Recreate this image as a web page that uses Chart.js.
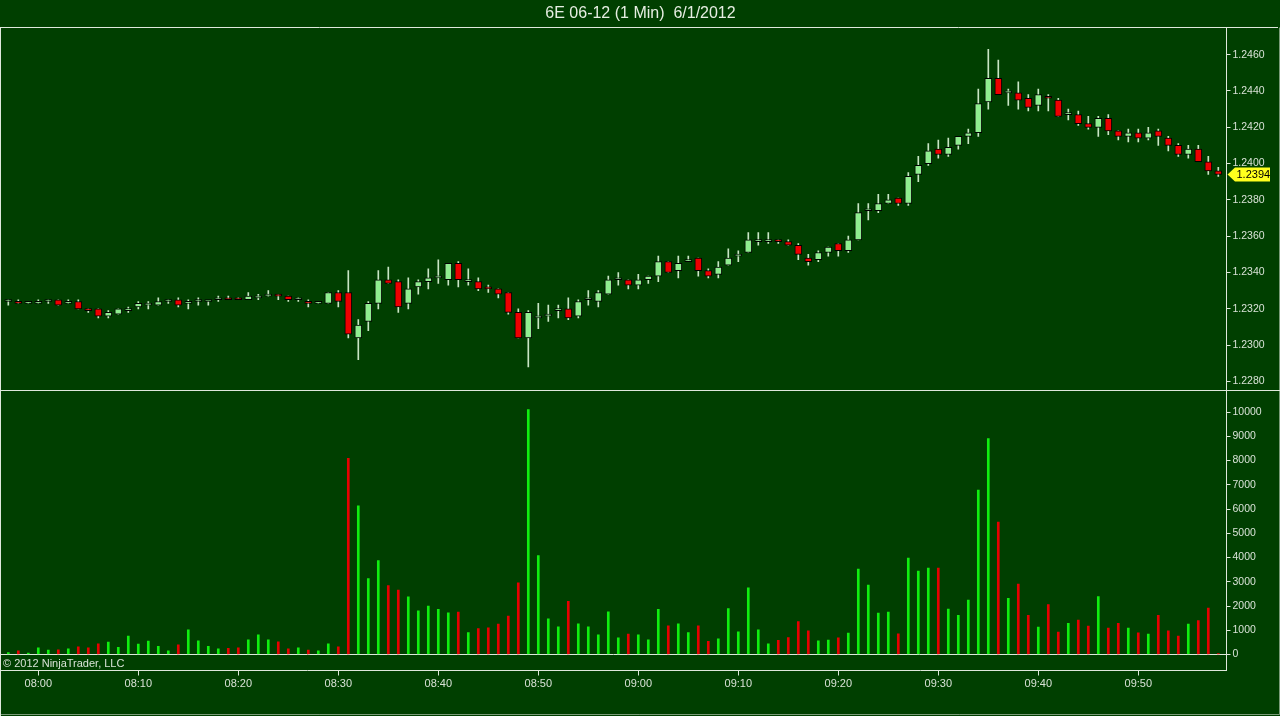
<!DOCTYPE html>
<html lang="en">
<head>
<meta charset="UTF-8">
<title>6E 06-12 (1 Min) 6/1/2012</title>
<script src="https://cdn.jsdelivr.net/npm/chart.js"></script>
<style>
  html, body { margin: 0; padding: 0; background: #003f00; overflow: hidden; }
  #wrap { position: relative; width: 1280px; height: 716px; background: #003f00; }
  #wrap canvas { position: absolute; left: 0; }
  #priceChart { top: 0; }
  #volumeChart { top: 390px; }
</style>
</head>
<body>
<div id="wrap">
  <canvas id="priceChart" width="1280" height="390"></canvas>
  <canvas id="volumeChart" width="1280" height="326"></canvas>
</div>
<script>
// one-minute bars, 07:57 to 09:58
const times = [
  '07:57','07:58','07:59','08:00','08:01','08:02','08:03','08:04','08:05','08:06',
  '08:07','08:08','08:09','08:10','08:11','08:12','08:13','08:14','08:15','08:16',
  '08:17','08:18','08:19','08:20','08:21','08:22','08:23','08:24','08:25','08:26',
  '08:27','08:28','08:29','08:30','08:31','08:32','08:33','08:34','08:35','08:36',
  '08:37','08:38','08:39','08:40','08:41','08:42','08:43','08:44','08:45','08:46',
  '08:47','08:48','08:49','08:50','08:51','08:52','08:53','08:54','08:55','08:56',
  '08:57','08:58','08:59','09:00','09:01','09:02','09:03','09:04','09:05','09:06',
  '09:07','09:08','09:09','09:10','09:11','09:12','09:13','09:14','09:15','09:16',
  '09:17','09:18','09:19','09:20','09:21','09:22','09:23','09:24','09:25','09:26',
  '09:27','09:28','09:29','09:30','09:31','09:32','09:33','09:34','09:35','09:36',
  '09:37','09:38','09:39','09:40','09:41','09:42','09:43','09:44','09:45','09:46',
  '09:47','09:48','09:49','09:50','09:51','09:52','09:53','09:54','09:55','09:56',
  '09:57','09:58'
];

const opens = [
  1.2324,1.2324,1.2323,1.2323,1.2324,1.2325,1.2323,1.2324,1.2320,1.2320,
  1.2316,1.2317,1.2319,1.2321,1.2322,1.2322,1.2324,1.2325,1.2323,1.2324,
  1.2324,1.2325,1.2326,1.2326,1.2325,1.2326,1.2327,1.2328,1.2327,1.2325,
  1.2324,1.2323,1.2323,1.2329,1.2329,1.2304,1.2313,1.2323,1.2336,1.2335,
  1.2323,1.2332,1.2335,1.2337,1.2336,1.2345,1.2335,1.2335,1.2332,1.2331,
  1.2329,1.2318,1.2304,1.2315,1.2316,1.2319,1.2320,1.2316,1.2325,1.2324,
  1.2328,1.2336,1.2336,1.2333,1.2336,1.2338,1.2346,1.2341,1.2346,1.2348,
  1.2341,1.2339,1.2344,1.2349,1.2351,1.2357,1.2357,1.2358,1.2357,1.2355,
  1.2348,1.2347,1.2351,1.2356,1.2352,1.2358,1.2374,1.2374,1.2378,1.2381,
  1.2378,1.2394,1.2400,1.2408,1.2405,1.2410,1.2415,1.2417,1.2434,1.2447,
  1.2439,1.2439,1.2436,1.2432,1.2437,1.2435,1.2427,1.2427,1.2422,1.2420,
  1.2425,1.2418,1.2415,1.2417,1.2414,1.2418,1.2414,1.2410,1.2405,1.2408,
  1.2401,1.2396
];
const highs = [
  1.2325,1.2325,1.2324,1.2325,1.2325,1.2325,1.2325,1.2325,1.2320,1.2320,
  1.2319,1.2320,1.2321,1.2324,1.2324,1.2326,1.2325,1.2326,1.2325,1.2326,
  1.2324,1.2327,1.2327,1.2326,1.2329,1.2328,1.2330,1.2328,1.2327,1.2326,
  1.2325,1.2324,1.2329,1.2330,1.2341,1.2314,1.2324,1.2341,1.2343,1.2336,
  1.2337,1.2336,1.2342,1.2347,1.2345,1.2346,1.2342,1.2337,1.2333,1.2331,
  1.2329,1.2320,1.2319,1.2323,1.2322,1.2322,1.2326,1.2325,1.2330,1.2330,
  1.2338,1.2340,1.2336,1.2339,1.2338,1.2349,1.2346,1.2349,1.2349,1.2348,
  1.2342,1.2346,1.2353,1.2352,1.2362,1.2362,1.2362,1.2358,1.2358,1.2356,
  1.2350,1.2352,1.2354,1.2356,1.2360,1.2378,1.2378,1.2383,1.2383,1.2381,
  1.2395,1.2404,1.2411,1.2413,1.2414,1.2415,1.2419,1.2441,1.2463,1.2457,
  1.2441,1.2445,1.2438,1.2441,1.2438,1.2436,1.2430,1.2429,1.2426,1.2426,
  1.2427,1.2418,1.2419,1.2419,1.2420,1.2419,1.2415,1.2411,1.2410,1.2410,
  1.2404,1.2398
];
const lows = [
  1.2322,1.2323,1.2323,1.2323,1.2323,1.2322,1.2323,1.2320,1.2318,1.2315,
  1.2315,1.2317,1.2318,1.2320,1.2320,1.2322,1.2323,1.2321,1.2320,1.2322,
  1.2322,1.2324,1.2325,1.2325,1.2325,1.2325,1.2327,1.2325,1.2324,1.2324,
  1.2321,1.2323,1.2323,1.2321,1.2304,1.2292,1.2308,1.2320,1.2334,1.2318,
  1.2320,1.2328,1.2331,1.2334,1.2333,1.2332,1.2333,1.2330,1.2329,1.2326,
  1.2317,1.2304,1.2288,1.2309,1.2313,1.2315,1.2314,1.2315,1.2322,1.2321,
  1.2328,1.2333,1.2331,1.2331,1.2334,1.2335,1.2340,1.2337,1.2346,1.2338,
  1.2337,1.2337,1.2344,1.2346,1.2351,1.2355,1.2356,1.2356,1.2355,1.2347,
  1.2344,1.2346,1.2349,1.2349,1.2351,1.2358,1.2369,1.2373,1.2378,1.2377,
  1.2377,1.2390,1.2399,1.2403,1.2404,1.2408,1.2411,1.2415,1.2430,1.2438,
  1.2432,1.2430,1.2429,1.2429,1.2429,1.2426,1.2424,1.2421,1.2419,1.2415,
  1.2416,1.2413,1.2412,1.2412,1.2413,1.2410,1.2407,1.2404,1.2403,1.2401,
  1.2394,1.2393
];
const closes = [
  1.2324,1.2323,1.2323,1.2324,1.2325,1.2322,1.2323,1.2320,1.2319,1.2316,
  1.2318,1.2320,1.2320,1.2323,1.2322,1.2324,1.2324,1.2322,1.2323,1.2324,
  1.2324,1.2325,1.2325,1.2325,1.2327,1.2326,1.2328,1.2327,1.2325,1.2325,
  1.2323,1.2324,1.2329,1.2324,1.2306,1.2311,1.2323,1.2336,1.2334,1.2321,
  1.2331,1.2335,1.2337,1.2338,1.2345,1.2336,1.2335,1.2331,1.2331,1.2328,
  1.2318,1.2304,1.2318,1.2316,1.2317,1.2319,1.2315,1.2324,1.2326,1.2329,
  1.2336,1.2336,1.2333,1.2336,1.2338,1.2346,1.2340,1.2345,1.2347,1.2341,
  1.2338,1.2343,1.2348,1.2350,1.2358,1.2357,1.2358,1.2357,1.2355,1.2350,
  1.2346,1.2351,1.2354,1.2352,1.2358,1.2373,1.2375,1.2378,1.2380,1.2378,
  1.2393,1.2399,1.2407,1.2405,1.2409,1.2415,1.2417,1.2433,1.2447,1.2438,
  1.2439,1.2435,1.2431,1.2438,1.2436,1.2426,1.2427,1.2422,1.2420,1.2425,
  1.2418,1.2415,1.2417,1.2414,1.2417,1.2415,1.2410,1.2405,1.2408,1.2401,
  1.2396,1.2394
];
const volumes = [
  80,150,60,280,180,190,230,320,280,440,
  510,300,760,430,550,340,150,400,1020,560,
  340,230,250,280,610,810,610,520,230,280,
  180,150,440,320,8090,6130,3130,3870,2840,2660,
  2380,1800,2000,1860,1720,1750,900,1070,1100,1250,
  1580,2960,10100,4080,1470,1140,2190,1270,1140,810,
  1760,690,840,810,610,1860,1180,1270,900,1180,
  540,650,1890,940,2750,1020,440,580,700,1360,
  980,560,590,690,880,3520,2860,1710,1750,850,
  3980,3440,3560,3560,1870,1620,2240,6780,8910,5460,
  2320,2900,1620,1130,2060,920,1290,1420,1170,2390,
  1090,1290,1090,890,840,1620,980,760,1250,1400,
  1910,40
];

const timeTicks = ['08:00','08:10','08:20','08:30','08:40','08:50','09:00','09:10','09:20','09:30','09:40','09:50'];
const priceTicks = [1.2280,1.2300,1.2320,1.2340,1.2360,1.2380,1.2400,1.2420,1.2440,1.2460];
const volumeTicks = [0,1000,2000,3000,4000,5000,6000,7000,8000,9000,10000];

const LINE = '#dfe8dc';
const TEXT = '#d8e2d6';
const UP_BODY = '#90ee90';
const DOWN_BODY = '#ee0000';
const WICK = '#c8e6c4';
const VOL_UP = '#10f010';
const VOL_DOWN = '#e80000';
const FONT = 'Arial, "Liberation Sans", sans-serif';

const toMin = t => { const [h, m] = t.split(':').map(Number); return h * 60 + m - 480; };
const xs = times.map(toMin);
const isUp = closes.map((c, i) => c >= opens[i]);

Chart.defaults.font.family = FONT;
Chart.defaults.animation = false;

function timeAxis(show) {
  return {
    type: 'linear',
    min: -3.73,
    max: 118.82,
    offset: false,
    display: show,
    afterBuildTicks: s => { s.ticks = timeTicks.map(t => ({ value: toMin(t) })); },
    afterFit: s => {
      if (show) s.height = 45.5;
      s.paddingLeft = 0; s.paddingRight = 0;
    },
    ticks: {
      autoSkip: false, maxRotation: 0, padding: 2, color: TEXT,
      font: { size: 11 },
      callback: v => timeTicks.find(t => toMin(t) === v) || ''
    },
    grid: { offset: false, drawOnChartArea: false, tickLength: 5, color: LINE, tickColor: LINE },
    border: { display: true, color: LINE, width: 1 }
  };
}

function valueAxis(min, max, tickList, fmt, gridColor) {
  return {
    type: 'linear',
    position: 'right',
    min: min,
    max: max,
    afterBuildTicks: s => { s.ticks = tickList.map(v => ({ value: v })); },
    afterFit: s => { s.width = 53.5; s.paddingTop = 0; s.paddingBottom = 0; },
    ticks: { padding: 2, color: TEXT, font: { size: 10.5 }, callback: fmt },
    grid: { drawOnChartArea: !!gridColor, color: gridColor || LINE, tickLength: 4, tickColor: LINE },
    border: { display: true, color: LINE, width: 1 }
  };
}

// frame, copyright and last-price tag
const priceDecor = {
  id: 'priceDecor',
  afterDraw(chart) {
    const { ctx, chartArea: a } = chart;
    ctx.save();
    ctx.strokeStyle = LINE;
    ctx.lineWidth = 1;
    ctx.beginPath();
    ctx.moveTo(0, a.top); ctx.lineTo(1278, a.top);
    ctx.moveTo(0.5, a.top); ctx.lineTo(0.5, chart.height);
    ctx.stroke();
    ctx.strokeStyle = 'rgba(220,232,218,0.55)';
    ctx.beginPath();
    ctx.moveTo(1279.5, a.top); ctx.lineTo(1279.5, chart.height);
    ctx.stroke();

    const last = closes[closes.length - 1];
    const y = chart.scales.y.getPixelForValue(last);
    const x0 = a.right + 1;
    ctx.fillStyle = '#ffff1e';
    ctx.beginPath();
    ctx.moveTo(x0, y);
    ctx.lineTo(x0 + 7.5, y - 7);
    ctx.lineTo(1270, y - 7);
    ctx.lineTo(1270, y + 7);
    ctx.lineTo(x0 + 7.5, y + 7);
    ctx.closePath();
    ctx.fill();
    ctx.fillStyle = '#000';
    ctx.font = '11px ' + FONT;
    ctx.textBaseline = 'middle';
    ctx.textAlign = 'left';
    ctx.fillText(last.toFixed(4), x0 + 9, y + 0.5);
    ctx.restore();
  }
};

const volumeDecor = {
  id: 'volumeDecor',
  afterDraw(chart) {
    const { ctx, chartArea: a } = chart;
    ctx.save();
    ctx.strokeStyle = LINE;
    ctx.lineWidth = 1;
    ctx.beginPath();
    ctx.moveTo(0, 0.5); ctx.lineTo(1280, 0.5);
    ctx.moveTo(0.5, 0); ctx.lineTo(0.5, chart.height);
    ctx.stroke();
    ctx.strokeStyle = 'rgba(220,232,218,0.55)';
    ctx.beginPath();
    ctx.moveTo(1279.5, 0); ctx.lineTo(1279.5, 324.5);
    ctx.lineTo(0, 324.5);
    ctx.stroke();
    ctx.fillStyle = TEXT;
    ctx.font = '11px ' + FONT;
    ctx.textBaseline = 'middle';
    ctx.textAlign = 'left';
    ctx.fillText('\u00a9 2012 NinjaTrader, LLC', 3, a.bottom - 7);
    ctx.restore();
  }
};

new Chart(document.getElementById('priceChart'), {
  type: 'bar',
  data: {
    datasets: [
      {
        label: 'Body',
        data: xs.map((x, i) => ({ x: x, y: [opens[i], closes[i]] })),
        backgroundColor: isUp.map(u => u ? UP_BODY : DOWN_BODY),
        borderColor: '#000',
        borderWidth: 1,
        borderSkipped: false,
        barThickness: 7,
        minBarLength: 2,
        grouped: false,
        order: 0
      },
      {
        label: 'Wick',
        data: xs.map((x, i) => ({ x: x, y: [lows[i], highs[i]] })),
        backgroundColor: WICK,
        barThickness: 1,
        minBarLength: 1,
        grouped: false,
        order: 1
      }
    ]
  },
  options: {
    responsive: false,
    layout: { padding: { left: 1, right: 0, top: 0, bottom: 0 } },
    plugins: {
      legend: { display: false },
      tooltip: { enabled: false },
      title: {
        display: true,
        text: '6E 06-12 (1 Min)  6/1/2012',
        color: '#e6eee2',
        font: { size: 16, weight: 'normal' },
        padding: { top: 4, bottom: 4.3 }
      }
    },
    scales: {
      x: timeAxis(false),
      y: valueAxis(1.227526, 1.2474986, priceTicks, v => v.toFixed(4))
    }
  },
  plugins: [priceDecor]
});

new Chart(document.getElementById('volumeChart'), {
  type: 'bar',
  data: {
    datasets: [{
      label: 'Volume',
      data: xs.map((x, i) => ({ x: x, y: volumes[i] })),
      backgroundColor: isUp.map(u => u ? VOL_UP : VOL_DOWN),
      barThickness: 2,
      grouped: false
    }]
  },
  options: {
    responsive: false,
    layout: { padding: { left: 1, right: 0, top: 0, bottom: 0 } },
    plugins: { legend: { display: false }, tooltip: { enabled: false } },
    scales: {
      x: timeAxis(true),
      y: valueAxis(-660, 10910, volumeTicks, v => String(v),
        c => (c.tick && c.tick.value === 0 ? LINE : 'rgba(0,0,0,0)'))
    }
  },
  plugins: [volumeDecor]
});
</script>
</body>
</html>
